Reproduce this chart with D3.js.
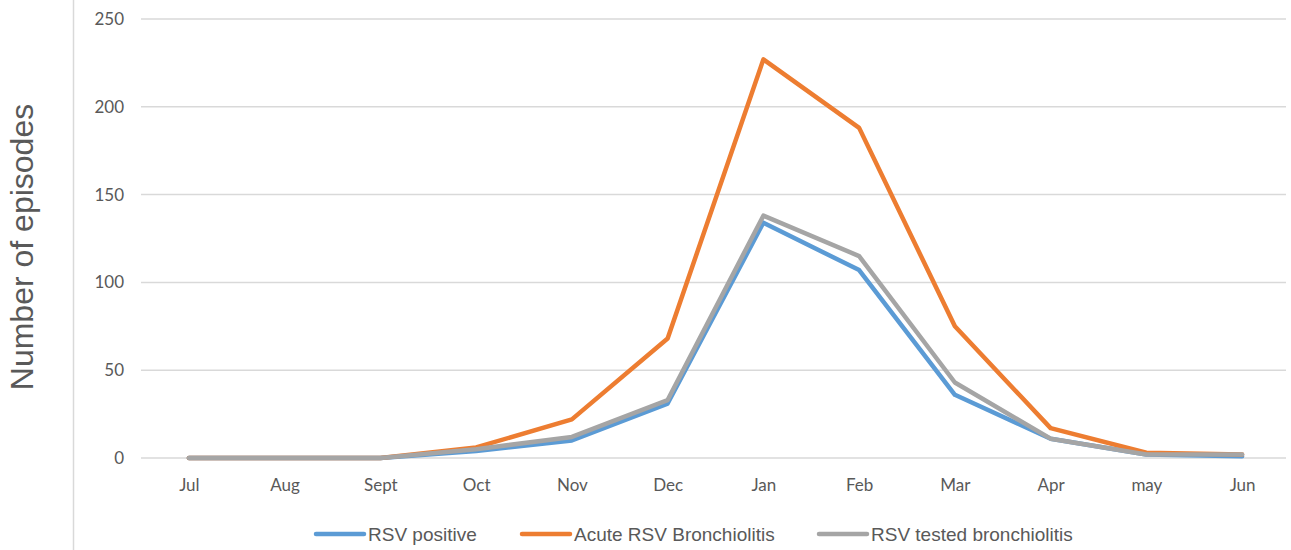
<!DOCTYPE html>
<html>
<head>
<meta charset="utf-8">
<script src="https://cdn.jsdelivr.net/npm/d3@7"></script>
<style>
  body { margin: 0; background: #fff; }
  svg text { fill: #595959; }
</style>
</head>
<body>
<div id="chart"></div>
<script>
var months = ["Jul", "Aug", "Sept", "Oct", "Nov", "Dec", "Jan", "Feb", "Mar", "Apr", "may", "Jun"];
var rsvPositive = [0, 0, 0, 4, 10, 31, 134, 107, 36, 11, 2, 1];
var acuteBronchiolitis = [0, 0, 0, 6, 22, 68, 227, 188, 75, 17, 3, 2];
var testedBronchiolitis = [0, 0, 0, 5, 12, 33, 138, 115, 43, 11, 2, 2];
var yTicks = [0, 50, 100, 150, 200, 250];

var series = [
    { name: "RSV positive", values: rsvPositive, color: "#5B9BD5" },
    { name: "Acute RSV Bronchiolitis", values: acuteBronchiolitis, color: "#ED7D31" },
    { name: "RSV tested bronchiolitis", values: testedBronchiolitis, color: "#A5A5A5" }
];

var width = 1291, height = 550;

var svg = d3.select("#chart")
    .append("svg")
    .attr("width", width)
    .attr("height", height);

// left border line
svg.append("line")
    .attr("x1", 73.5).attr("x2", 73.5)
    .attr("y1", 0).attr("y2", height)
    .style("stroke", "#d9d9d9")
    .style("stroke-width", 1.5);

var x = d3.scalePoint()
    .domain(months)
    .range([141, 1290])
    .padding(0.5);

var y = d3.scaleLinear()
    .domain([0, 250])
    .range([458, 19]);

// gridlines
svg.append("g")
    .attr("class", "grid")
    .selectAll("line")
    .data(yTicks)
    .enter().append("line")
    .attr("x1", 141).attr("x2", 1286)
    .attr("y1", function (d) { return y(d); })
    .attr("y2", function (d) { return y(d); })
    .style("stroke", "#d9d9d9")
    .style("stroke-width", 1.5);

// y axis
var yAxis = svg.append("g")
    .attr("transform", "translate(124,0)")
    .call(d3.axisLeft(y).tickValues(yTicks).tickSize(0).tickPadding(0));
yAxis.select(".domain").remove();
yAxis.selectAll("text")
    .style("font-family", "Lato, 'Open Sans', sans-serif")
    .style("font-size", "17px")
    .style("fill", "#595959");

// x axis
var xAxis = svg.append("g")
    .attr("transform", "translate(0,458)")
    .call(d3.axisBottom(x).tickSize(0).tickPadding(21));
xAxis.select(".domain").remove();
xAxis.selectAll("text")
    .style("font-family", "Lato, 'Open Sans', sans-serif")
    .style("font-size", "17px")
    .style("fill", "#595959");

// y label
svg.append("text")
    .attr("transform", "translate(33,247) rotate(-90)")
    .attr("text-anchor", "middle")
    .style("font-family", "'Liberation Sans', Arial, sans-serif")
    .style("font-size", "32px")
    .text("Number of episodes");

// lines
var line = d3.line()
    .x(function (d, i) { return x(months[i]); })
    .y(function (d) { return y(d); });

svg.append("g")
    .attr("class", "lines")
    .selectAll("path")
    .data(series)
    .enter().append("path")
    .attr("d", function (d) { return line(d.values); })
    .style("fill", "none")
    .style("stroke", function (d) { return d.color; })
    .style("stroke-width", 4.5)
    .style("stroke-linejoin", "round")
    .style("stroke-linecap", "round");

// legend
var legendX = [316, 522, 819];
var legend = svg.append("g")
    .attr("class", "legend")
    .selectAll("g")
    .data(series)
    .enter().append("g")
    .attr("transform", function (d, i) { return "translate(" + legendX[i] + ",534)"; });

legend.append("line")
    .attr("x1", 0).attr("x2", 48)
    .attr("y1", 0).attr("y2", 0)
    .style("stroke", function (d) { return d.color; })
    .style("stroke-width", 4.5)
    .style("stroke-linecap", "round");

legend.append("text")
    .attr("x", 52)
    .attr("dy", "0.35em")
    .style("font-family", "'Liberation Sans', Arial, sans-serif")
    .style("font-size", "19px")
    .text(function (d) { return d.name; });
</script>
</body>
</html>
